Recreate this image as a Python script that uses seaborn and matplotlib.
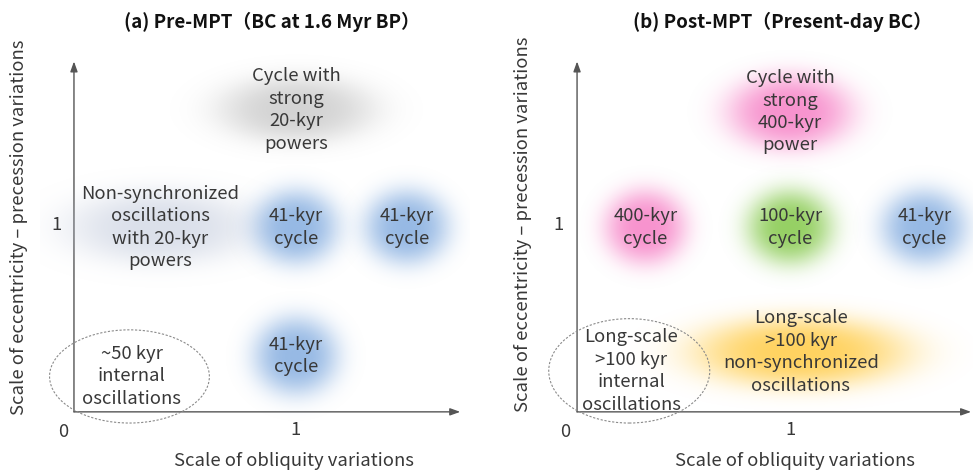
import numpy as np
import matplotlib
matplotlib.use("Agg")
import matplotlib.pyplot as plt
from matplotlib.patches import Ellipse
import seaborn as sns

# ---- content -------------------------------------------------------------
panel_titles = ["(a) Pre-MPT（BC at 1.6 Myr BP）", "(b) Post-MPT（Present-day BC）"]
x_label = "Scale of obliquity variations"
y_label = "Scale of eccentricity – precession variations"
tick_values = [0, 1]

# Panel (a): regimes placed by (obliquity scale, eccentricity-precession scale)
pre_labels = ["Cycle with\nstrong\n20-kyr\npowers",
              "Non-synchronized\noscillations\nwith 20-kyr\npowers",
              "41-kyr\ncycle", "41-kyr\ncycle", "41-kyr\ncycle"]
pre_x = [1.0, 0.39, 1.0, 1.5, 1.0]
pre_y = [1.62, 0.99, 0.99, 0.99, 0.30]
pre_colors = ["gray", "mist", "blue", "blue", "blue"]
pre_internal_label = "~50 kyr\ninternal\noscillations"
pre_internal_xy = (0.25, 0.19)

# Panel (b)
post_labels = ["Cycle with\nstrong\n400-kyr\npower",
               "400-kyr\ncycle", "100-kyr\ncycle", "41-kyr\ncycle",
               "Long-scale\n>100 kyr\nnon-synchronized\noscillations"]
post_x = [1.0, 0.32, 1.0, 1.63, 1.05]
post_y = [1.61, 0.99, 0.99, 0.99, 0.32]
post_colors = ["pink", "pink", "green", "blue", "yellow"]
post_internal_label = "Long-scale\n>100 kyr\ninternal\noscillations"
post_internal_xy = (0.245, 0.22)

# ---- styling ---------------------------------------------------------------
sns.set_theme(style="white")
plt.rcParams["font.family"] = ["Noto Sans CJK JP", "DejaVu Sans"]

W, H = 973, 471
fig = plt.figure(figsize=(W / 100, H / 100), dpi=100)

palette = {
    "gray": ((0.66, 0.66, 0.66), 0.50),
    "mist": ((0.72, 0.76, 0.84), 0.50),
    "blue": ((0.40, 0.60, 0.85), 0.68),
    "pink": ((0.96, 0.38, 0.72), 0.68),
    "green": ((0.50, 0.78, 0.26), 0.82),
    "yellow": ((1.00, 0.78, 0.20), 0.78),
}
blob_sizes = {  # half-extents in data units (x, y)
    "pre": [(0.35, 0.18), (0.42, 0.20), (0.19, 0.20), (0.19, 0.20), (0.19, 0.21)],
    "post": [(0.29, 0.20), (0.19, 0.20), (0.20, 0.20), (0.20, 0.20), (0.50, 0.19)],
}
text_color = "#383838"
axis_color = "#555555"
FS = 13.3
LS = 1.32


def blob(ax, cx, cy, a, b, key):
    rgb, peak = palette[key]
    n = 200
    xs = np.linspace(cx - 2.6 * a, cx + 2.6 * a, n)
    ys = np.linspace(cy - 2.6 * b, cy + 2.6 * b, n)
    X, Y = np.meshgrid(xs, ys)
    r2 = ((X - cx) / a) ** 2 + ((Y - cy) / b) ** 2
    alpha = peak * np.exp(-(r2 ** 1.6))
    img = np.zeros((n, n, 4))
    img[..., :3] = rgb
    img[..., 3] = alpha
    ax.imshow(img, extent=(xs[0], xs[-1], ys[0], ys[-1]), origin="lower",
              aspect="auto", interpolation="bilinear", zorder=2)


def panel(rect, xlim, ylim, x_end, y_end, labels, xs, ys, colors, sizes,
          internal_label, internal_xy, ell_w, ell_h, tick_pos):
    ax = fig.add_axes(rect)
    ax.set_xlim(*xlim)
    ax.set_ylim(*ylim)
    sns.despine(ax=ax, left=True, bottom=True)
    ax.set_xticks([])
    ax.set_yticks([])
    ax.patch.set_alpha(0)

    # axes drawn as arrows from the origin
    arrow = dict(arrowstyle="-|>,head_length=0.5,head_width=0.18",
                 color=axis_color, lw=1.0, shrinkA=0, shrinkB=0)
    ax.annotate("", xy=(x_end, 0), xytext=(0, 0), arrowprops=arrow, zorder=1)
    ax.annotate("", xy=(0, y_end), xytext=(0, 0), arrowprops=arrow, zorder=1)

    for lab, x, y, c, (a, b) in zip(labels, xs, ys, colors, sizes):
        blob(ax, x, y, a, b, c)
        ax.text(x, y, lab, ha="center", va="center", multialignment="center",
                fontsize=FS, color=text_color, linespacing=LS, zorder=4)

    ax.add_patch(Ellipse(internal_xy, ell_w, ell_h, fill=False,
                         edgecolor="#8a8a8a", lw=0.8, linestyle=(0, (2, 1.5)),
                         zorder=3))
    ax.text(internal_xy[0] + 0.01, internal_xy[1], internal_label, ha="center",
            va="center", multialignment="center", fontsize=FS,
            color=text_color, linespacing=LS, zorder=4)

    tx0, tx1, ty1 = tick_pos
    ax.text(tx0, -0.11, str(tick_values[0]), ha="center", va="center",
            fontsize=FS, color=text_color)
    ax.text(tx1, -0.10, str(tick_values[1]), ha="center", va="center",
            fontsize=FS, color=text_color)
    ax.text(ty1, 1.0, str(tick_values[1]), ha="center", va="center",
            fontsize=FS, color=text_color)
    return ax


# panel (a): origin at (74, 412) px, 222 px per x unit, 186 px per y unit
ax_a = panel([40 / W, 1 - 440 / H, 430 / W, 400 / H],
             (-0.153, 1.784), (-0.151, 1.995), 1.74, 1.88,
             pre_labels, pre_x, pre_y, pre_colors, blob_sizes["pre"],
             pre_internal_label, pre_internal_xy, 0.72, 0.50,
             (-0.05, 1.0, -0.077))

# panel (b): origin at (577, 412) px, 213 px per x unit
ax_b = panel([540 / W, 1 - 440 / H, 433 / W, 400 / H],
             (-0.174, 1.859), (-0.151, 1.995), 1.85, 1.88,
             post_labels, post_x, post_y, post_colors, blob_sizes["post"],
             post_internal_label, post_internal_xy, 0.756, 0.56,
             (-0.056, 1.0, -0.085))

# titles and axis labels
fig.text(272 / W, 1 - 22 / H, panel_titles[0], ha="center", va="center",
         fontsize=13.5, fontweight="bold", color="#111111")
fig.text(782 / W, 1 - 22 / H, panel_titles[1], ha="center", va="center",
         fontsize=13.5, fontweight="bold", color="#111111")
for xc in (294, 795):
    fig.text(xc / W, 1 - 461 / H, x_label, ha="center", va="center",
             fontsize=FS, color=text_color)
for xc, yc in ((19, 227), (523, 224)):
    fig.text(xc / W, 1 - yc / H, y_label, ha="center", va="center",
             rotation=90, fontsize=FS, color=text_color)

fig.savefig("out.png", dpi=100)
